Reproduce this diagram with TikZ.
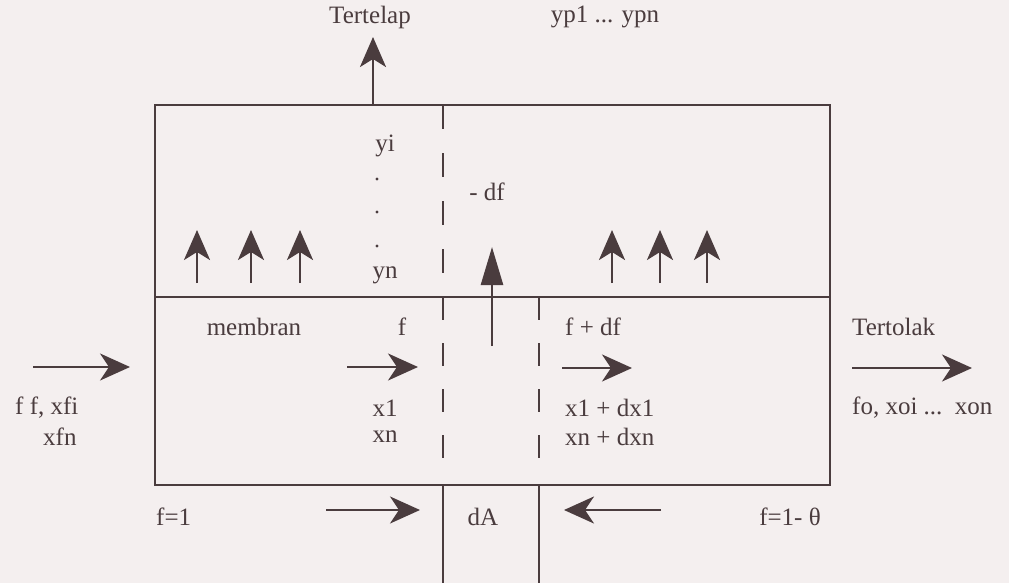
\documentclass[tikz,border=0pt]{standalone}
\usepackage{fontspec}
\setmainfont{Liberation Serif}
\usetikzlibrary{arrows.meta}
\definecolor{ink}{HTML}{4A3C3E}
\definecolor{paper}{HTML}{F4EFEF}
\begin{document}
\begin{tikzpicture}[x=1pt,y=-1pt,
  lbl/.style={text=ink, font=\fontsize{25}{30}\selectfont, inner sep=0pt},
  wall/.style={draw=ink, line width=2.6pt},
  flow/.style={draw=ink, line width=2.6pt, -{Stealth[length=30pt,width=27pt,inset=9pt]}},
  rise/.style={draw=ink, line width=2.6pt, -{Stealth[length=30pt,width=26pt,inset=8pt]}},
  bigrise/.style={draw=ink, line width=2.6pt, -{Triangle[length=38pt,width=22pt]}},
  dashline/.style={draw=ink, line width=2.6pt, dash pattern=on 24pt off 24pt},
  dashlow/.style={draw=ink, line width=2.6pt, dash pattern=on 23pt off 23pt},
]
\fill[paper] (0,0) rectangle (1009,583);
\useasboundingbox (0,0) rectangle (1009,583);

% box
\coordinate (TL) at (155,105);
\coordinate (BR) at (830,485);
\coordinate (ML) at (155,297);
\coordinate (MR) at (830,297);
\draw[wall] (TL) rectangle (BR);
\draw[wall] (ML) -- (MR);

% dashed element boundaries
\coordinate (d1t) at (443,105);
\coordinate (d1m) at (443,297);
\coordinate (d1b) at (443,460);
\coordinate (d2m) at (539,297);
\coordinate (d2b) at (539,460);
\draw[dashline] (d1t) -- (d1m);
\draw[dashlow] (d1m) -- (d1b);
\draw[dashlow] (d2m) -- (d2b);

% lines below box
\coordinate (e1a) at (443,485);
\coordinate (e1b) at (443,583);
\coordinate (e2a) at (539,485);
\coordinate (e2b) at (539,583);
\draw[wall] (e1a) -- (e1b);
\draw[wall] (e2a) -- (e2b);

% permeate outlet
\coordinate (pa) at (373,105);
\coordinate (pb) at (373,37);
\draw[rise] (pa) -- (pb);
\node[lbl] (tertelap) at (370,17) {Tertelap};
\node[lbl] (yp) at (605,17) {yp1 ... ypn};

% permeate arrows in top compartment
\foreach \x [count=\i] in {197,251,300,612,660,707}{
  \coordinate (ua\i) at (\x,283);
  \coordinate (ub\i) at (\x,230);
  \draw[rise] (ua\i) -- (ub\i);
}
\coordinate (ca) at (492,346);
\coordinate (cb) at (492,247);
\draw[bigrise] (ca) -- (cb);

\node[lbl] (yi) at (385,146) {yi};
\fill[ink] (377,179) circle (1.6) (377,212) circle (1.6) (377,246) circle (1.6);
\node[lbl] (yn) at (385,275) {yn};
\node[lbl] (mdf) at (487,192) {- df};

% feed side
\node[lbl] (membran) at (254,327) {membran};
\node[lbl] (f) at (402,327) {f};
\node[lbl,anchor=west] (fdf) at (565,327) {f + df};
\node[lbl,anchor=west] (tertolak) at (852,327) {Tertolak};

\coordinate (fa1) at (33,367);  \coordinate (fb1) at (130,367);
\coordinate (fa2) at (347,367); \coordinate (fb2) at (418,367);
\coordinate (fa3) at (562,368); \coordinate (fb3) at (632,368);
\coordinate (fa4) at (852,368); \coordinate (fb4) at (972,368);
\draw[flow] (fa1) -- (fb1);
\draw[flow] (fa2) -- (fb2);
\draw[flow] (fa3) -- (fb3);
\draw[flow] (fa4) -- (fb4);

\node[lbl,anchor=west] (ffx) at (15,408) {f f, xfi};
\node[lbl,anchor=west] (xfn) at (43,437) {xfn};
\node[lbl] (x1) at (385,408) {x1};
\node[lbl] (xn) at (385,437) {xn};
\node[lbl,anchor=west] (x1d) at (565,408) {x1 + dx1};
\node[lbl,anchor=west] (xnd) at (565,437) {xn + dxn};
\node[lbl,anchor=west] (fo) at (852,408) {fo, xoi ...\ \ xon};

% bottom
\node[lbl,anchor=west] (f1) at (156,517) {f=1};
\node[lbl] (dA) at (483,517) {dA};
\node[lbl] (f1t) at (790,517) {f=1- θ};
\coordinate (ba1) at (326,510); \coordinate (bb1) at (420,510);
\coordinate (ba2) at (661,510); \coordinate (bb2) at (564,510);
\draw[flow] (ba1) -- (bb1);
\draw[flow] (ba2) -- (bb2);
\end{tikzpicture}
\end{document}
